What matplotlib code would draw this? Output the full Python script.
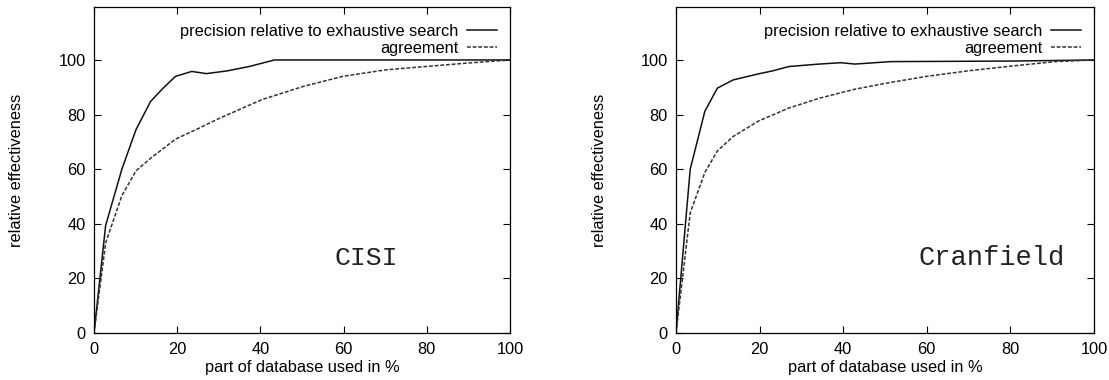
import numpy as np
import matplotlib
matplotlib.use("Agg")
import matplotlib.pyplot as plt

# CISI
cisi_prec_x = [0, 2.8, 6.7, 10.1, 13.6, 16.5, 19.6, 23.5, 27, 32, 37.3, 43.4, 60, 80, 100]
cisi_prec_y = [0, 39.4, 60, 74.5, 84.8, 89.5, 94, 95.8, 95, 96, 97.6, 100, 100, 100, 100]
cisi_agr_x = [0, 2.8, 6.7, 10.1, 13.6, 19.6, 25.2, 30.4, 40.4, 50.3, 59.8, 70.2, 79.7, 89.2, 100]
cisi_agr_y = [0, 33, 50.3, 59.4, 64, 71, 75, 78.8, 85.5, 90.3, 94, 96.4, 97.6, 98.8, 100]

# Cranfield
cran_prec_x = [0, 3.4, 6.9, 9.9, 13.7, 19.7, 23.1, 27, 34.3, 39.4, 42.8, 51.4, 80.5, 100]
cran_prec_y = [0, 60, 81.2, 89.7, 92.7, 94.9, 96, 97.6, 98.5, 99, 98.5, 99.4, 99.6, 100]
cran_agr_x = [0, 3.4, 6.9, 9.9, 13.7, 19.7, 27, 34.3, 42.8, 51.4, 60, 70.3, 80.5, 90.8, 100]
cran_agr_y = [0, 44, 58.8, 66.7, 72, 77.6, 82.4, 86, 89.3, 91.8, 94, 96.1, 97.8, 99.4, 100]

panels = [
    ("CISI", cisi_prec_x, cisi_prec_y, cisi_agr_x, cisi_agr_y, 65.4, 19),
    ("Cranfield", cran_prec_x, cran_prec_y, cran_agr_x, cran_agr_y, 75.6, 19.5),
]

plt.rcParams['font.family'] = ['Liberation Sans', 'DejaVu Sans']
fs = 11.8

fig = plt.figure(figsize=(11.09, 3.80), dpi=100)
lefts = [94 / 1109, 676 / 1109]
widths = [416 / 1109, 418 / 1109]
ylab_x = [-0.168, -0.165]

for i, (name, px, py, ax_x, ax_y, tx, tsize) in enumerate(panels):
    ax = fig.add_axes([lefts[i], 47 / 380, widths[i], 326 / 380])
    ax.plot(px, py, color='#111111', lw=1.1, label='precision relative to exhaustive search')
    ax.plot(ax_x, ax_y, color='#333333', lw=1.1, linestyle=(0, (2.5, 1.2)), label='agreement')
    ax.set_xlim(0, 100)
    ax.set_ylim(0, 119.4)
    ax.set_xticks(range(0, 101, 20))
    ax.set_yticks(range(0, 101, 20))
    ax.tick_params(direction='in', top=True, right=True, length=5, width=0.8,
                   labelsize=fs)
    ax.tick_params(axis='x', pad=6.5)
    ax.tick_params(axis='y', pad=5.8)
    for s in ax.spines.values():
        s.set_linewidth(0.9)
    ax.set_xlabel('part of database used in %', fontsize=fs)
    ax.xaxis.set_label_coords(0.5, -0.083)
    ax.set_ylabel('relative effectiveness', fontsize=fs)
    ax.yaxis.set_label_coords(ylab_x[i], 0.5)
    ax.text(tx, 27.5, name, family='Liberation Mono', fontsize=tsize,
            ha='center', va='center', color='#222222')
    ax.legend(loc='upper right', bbox_to_anchor=(0.969, 0.948), frameon=False,
              markerfirst=False, fontsize=fs, handlelength=1.83, handletextpad=0.55,
              labelspacing=0.1, borderaxespad=0, borderpad=0)

fig.savefig('out.png', dpi=100)
